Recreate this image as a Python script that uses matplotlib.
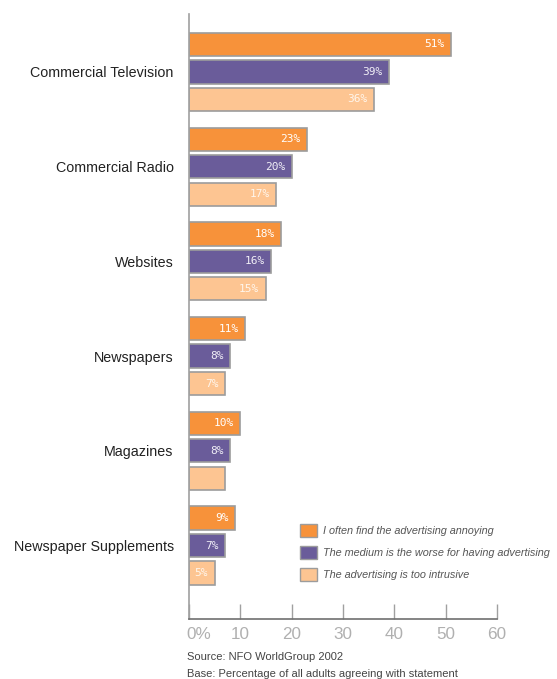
import numpy as np
import matplotlib.pyplot as plt
import matplotlib.transforms as mtransforms
from matplotlib.patches import Patch

categories = ["Commercial Television", "Commercial Radio", "Websites",
              "Newspapers", "Magazines", "Newspaper Supplements"]
annoying = [51, 23, 18, 11, 10, 9]
worse = [39, 20, 16, 8, 8, 7]
intrusive = [36, 17, 15, 7, 7, 5]
# the magazines "intrusive" bar has no label in the original
show_intrusive = [True, True, True, True, False, True]
series_names = ["I often find the advertising annoying",
                "The medium is the worse for having advertising",
                "The advertising is too intrusive"]
xticks = [0, 10, 20, 30, 40, 50, 60]
xticklabels = ["0%", "10", "20", "30", "40", "50", "60"]

c_orange = "#f7923a"
c_purple = "#6a5c9a"
c_peach = "#fdc592"
edge = "#9c9c9c"

plt.rcParams['font.family'] = ['Liberation Sans', 'DejaVu Sans']

fig = plt.figure(figsize=(5.57, 6.79), dpi=100)
ax = fig.add_axes([189 / 557, 1 - 619 / 679, 308 / 557, 605 / 679])

y = np.arange(len(categories))
pitch = 0.29
h = 0.245

series = [(annoying, c_orange, -pitch, "white", [True] * 6),
          (worse, c_purple, 0.0, "#f0eef6", [True] * 6),
          (intrusive, c_peach, pitch, "#fff6ec", show_intrusive)]

for vals, col, off, tcol, show in series:
    bars = ax.barh(y + off, vals, height=h, color=col, edgecolor=edge,
                   linewidth=1.2)
    for b, v, s in zip(bars, vals, show):
        if s:
            ax.text(v - 1.3, b.get_y() + h / 2, "%d%%" % v, ha="right",
                    va="center", fontsize=8, color=tcol,
                    family="DejaVu Sans Mono")

ax.set_xlim(0, 60)
ax.set_ylim(5.776, -0.612)

ax.set_yticks(y)
ax.set_yticklabels(categories, fontsize=10.3, color="#222222")
ax.tick_params(axis="y", length=0, pad=11)

ax.set_xticks(xticks)
ax.set_xticklabels(xticklabels, fontsize=12.3, color="#b0b0b0")
ax.tick_params(axis="x", direction="in", length=11, width=1,
               color="#a0a0a0", pad=6)
# "0%" starts at the axis rather than being centred on it
first = ax.get_xticklabels()[0]
first.set_ha("left")
first.set_transform(first.get_transform() +
                    mtransforms.ScaledTranslation(-3 / 100, 0,
                                                  fig.dpi_scale_trans))

for s in ["top", "right"]:
    ax.spines[s].set_visible(False)
ax.spines["left"].set_color("#a0a0a0")
ax.spines["bottom"].set_color("#707070")
ax.spines["left"].set_linewidth(1.2)
ax.spines["bottom"].set_linewidth(1.2)

handles = [Patch(facecolor=c, edgecolor=edge, linewidth=1)
           for c in (c_orange, c_purple, c_peach)]
fig.legend(handles, series_names, loc="upper left",
           bbox_to_anchor=(300 / 557, 1 - 524 / 679), frameon=False,
           borderpad=0, borderaxespad=0,
           handlelength=1.55, handleheight=1.45, handletextpad=0.6,
           labelspacing=0.85, prop={"size": 7.8, "style": "italic"},
           labelcolor="#555555")

fig.text(187 / 557, 1 - 657 / 679, "Source: NFO WorldGroup 2002",
         fontsize=8, color="#444444", va="center")
fig.text(187 / 557, 1 - 674 / 679,
         "Base: Percentage of all adults agreeing with statement",
         fontsize=8, color="#444444", va="center")

fig.savefig("out.png", dpi=100)
